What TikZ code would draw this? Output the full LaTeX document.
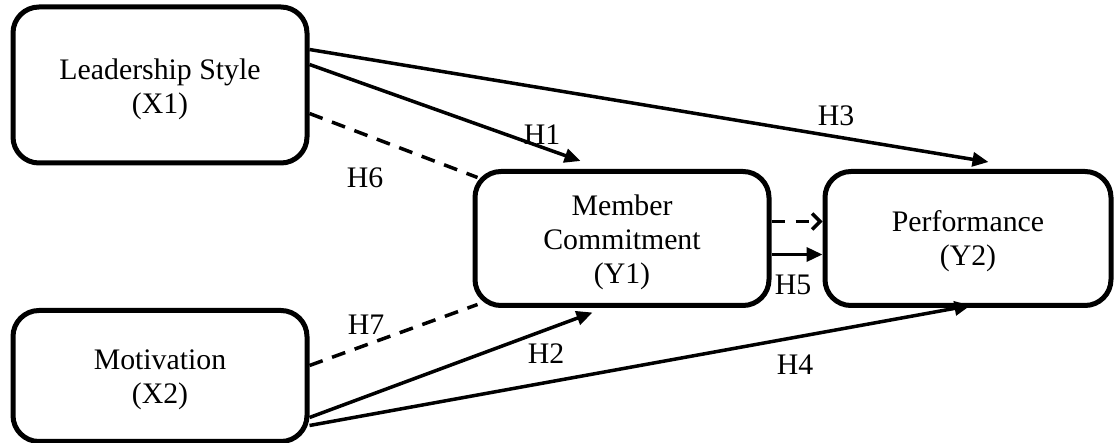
\documentclass[tikz,border=0pt]{standalone}
\usepackage{fontspec}
\setmainfont{Liberation Serif}
\usetikzlibrary{arrows.meta,calc}
\begin{document}
\begin{tikzpicture}[x=1pt,y=-1pt,
  box/.style={draw,line width=5pt,rounded corners=26pt,align=center,inner sep=0pt,
    font=\fontsize{29.8}{34}\selectfont},
  txt/.style={align=center,inner sep=0pt,font=\fontsize{29.8}{34}\selectfont},
  lab/.style={font=\fontsize{29.8}{34}\selectfont,inner sep=0pt},
  conn/.style={line width=3.5pt,-{Triangle[length=16pt,width=14pt]}},
  dashline/.style={line width=3.5pt,dash pattern=on 14pt off 10pt},
  dashconn/.style={line width=3.5pt,dash pattern=on 13pt off 11pt,-{Straight Barb[length=8pt,width=16pt,line width=3.5pt]}}]
\useasboundingbox (0,0) rectangle (1114,443);
\node[box,minimum width=294pt,minimum height=156pt] (x1) at (160,85) {};
\node[box,minimum width=294pt,minimum height=131pt] (x2) at (160,376) {};
\node[box,minimum width=294pt,minimum height=134pt] (y1) at (622,238.5) {};
\node[box,minimum width=286pt,minimum height=134pt] (y2) at (968,238.5) {};
\node[txt] (x1t) at ([yshift=-4pt]x1.center) {Leadership Style\\(X1)};
\node[txt] (x2t) at ([yshift=-4pt]x2.center) {Motivation\\(X2)};
\node[txt] (y1t) at ([yshift=-4pt]y1.center) {Member\\Commitment\\(Y1)};
\node[txt] (y2t) at ([yshift=-3pt]y2.center) {Performance\\(Y2)};
% connectors
\draw[conn] ([yshift=-45pt]x1.north east) -- ([xshift=166pt,yshift=7pt]y2.north west);
\draw[conn] ([yshift=-60pt]x1.north east) -- ([xshift=108pt,yshift=8pt]y1.north west);
\draw[dashline] ([yshift=-109pt]x1.north east) -- ([xshift=5pt,yshift=-8.5pt]y1.north west);
\draw[dashline] ([yshift=-57.5pt]x2.north east) -- ([xshift=5pt,yshift=3.5pt]y1.south west);
\draw[conn] ([yshift=26.5pt]x2.south east) -- ([xshift=120pt,yshift=-4.5pt]y1.south west);
\draw[conn] ([yshift=18.5pt]x2.south east) -- ([xshift=148pt,yshift=2.5pt]y2.south west);
\draw[dashconn] ([yshift=-52.5pt]y1.north east) -- ([yshift=-52.5pt]y2.north west);
\draw[conn] ([yshift=-85.5pt]y1.north east) -- ([yshift=-85.5pt]y2.north west);
% labels
\node[lab] (h1) at (542,135) {H1};
\node[lab] (h3) at (836,116) {H3};
\node[lab] (h6) at (365,178) {H6};
\node[lab] (h7) at (366,325) {H7};
\node[lab] (h2) at (546,354) {H2};
\node[lab] (h4) at (795,365) {H4};
\node[lab] (h5) at (793,285) {H5};
\end{tikzpicture}
\end{document}
